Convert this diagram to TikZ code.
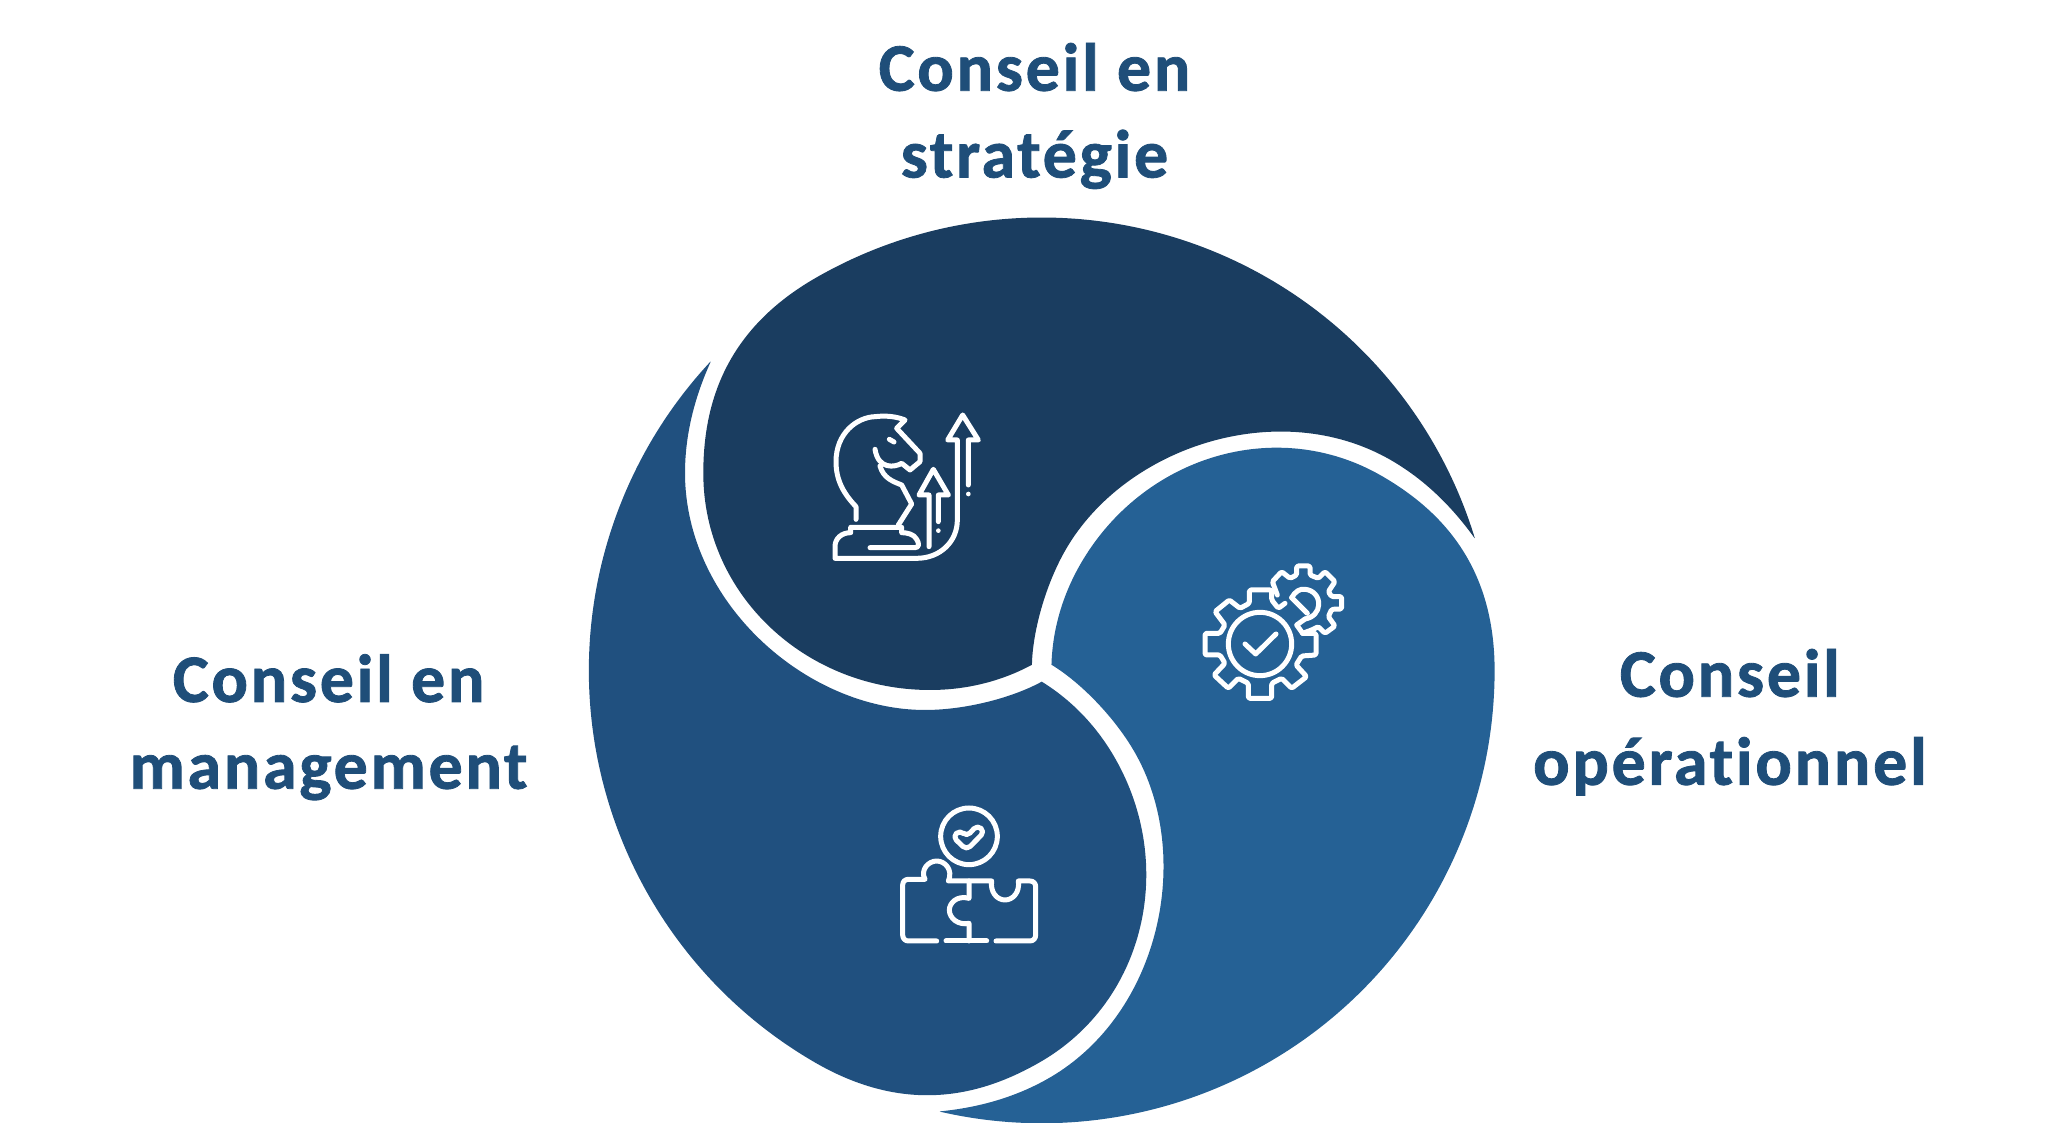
\documentclass[tikz,border=0pt]{standalone}
\usepackage{fontspec}
\setmainfont{Carlito}[LetterSpace=4,Ligatures=NoCommon,BoldFeatures={FakeBold=1.2}]
\definecolor{cdark}{HTML}{1A3D60}
\definecolor{cmid}{HTML}{20507F}
\definecolor{clight}{HTML}{256195}
\definecolor{ctext}{HTML}{1F4E79}
\tikzset{
  headtext/.style={font=\fontsize{68}{68}\selectfont\bfseries,text=ctext,anchor=base,inner sep=0pt},
  icon/.style={draw=white,line width=5pt,line cap=round,line join=round,fill=none},
}
% one petal, traced in the frame of the top (dark) petal; real pixels, y downward
\newcommand{\piece}[2]{%
  \fill[#1,rotate around={#2:(1041.7,670.4)}]
    (1031.9,664.8) .. controls (1000,682) and (965,690) .. (930,690)
    .. controls (806,690) and (703.3,595) .. (703.3,473.3)
    .. controls (703.3,405) and (724.3,330.7) .. (815.2,278.2)
    arc[start angle=-120,end angle=-17,radius=452.9]
    [rotate around={-120:(1041.7,670.4)}]
    -- (710.7,361.7) .. controls (697,392) and (685,430) .. (685,473)
    .. controls (685,602) and (806,710) .. (925,710)
    .. controls (965,710) and (1012,698) .. (1041.7,681.7) -- cycle;}
\begin{document}
\begin{tikzpicture}[x=1pt,y=1pt]
\useasboundingbox (0,0) rectangle (2060,1123);
\begin{scope}[yshift=1123pt,x=1pt,y=-1pt]
  \piece{clight}{-120}
  \piece{cdark}{0}
  \piece{cmid}{120}
\end{scope}
\begin{scope}[x=1.3145pt,y=1.3145pt]
  \node[headtext] (t1) at (787,785.3) {Conseil en};
  \node[headtext] (t2) at (787,719.3) {stratégie};
  \node[headtext] (l1) at (250,320.3) {Conseil en};
  \node[headtext] (l2) at (250,254.3) {management};
  \node[headtext] (r1) at (1316,324.3) {Conseil};
  \node[headtext] (r2) at (1316,257.3) {opérationnel};
\end{scope}
% knight
\begin{scope}[xshift=800pt,yshift=733pt,x=.33333pt,y=-.33333pt]
  \draw[icon] (168,388) -- (168,350) .. controls (130,310) and (108,270) .. (108,215)
     .. controls (108,130) and (170,82) .. (225,80) .. controls (260,76) and (290,80) .. (315,90)
     -- (290,115) -- (360,190) -- (360,215) -- (330,240) -- (305,220)
     .. controls (285,232) and (235,240) .. (225,178);
  \draw[icon] (240,228) .. controls (250,265) and (280,275) .. (305,285) -- (335,342) -- (295,405);
  \draw[icon] (268,148) -- (282,156);
  \draw[icon] (210,473) -- (345,473) .. controls (358,473) and (358,460) .. (350,448)
     .. controls (342,432) and (320,428) .. (305,428) -- (305,412) -- (152,412) -- (152,428)
     .. controls (125,428) and (105,445) .. (105,470) -- (105,505) -- (350,505)
     .. controls (420,505) and (472,455) .. (472,390) -- (472,150) -- (443,150) -- (488,75) -- (535,150) -- (505,150) -- (505,285);
  \fill[white] (505,312) circle (7);
  \draw[icon] (387,470) -- (387,315) -- (357,315) -- (400,238) -- (445,315) -- (415,315) -- (415,395);
  \fill[white] (415,422) circle (7);
\end{scope}
% gears
\begin{scope}[xshift=1190pt,yshift=573pt,x=.33333pt,y=-.33333pt]
  \draw[icon,rounded corners=1.5pt] (338,250) -- (378,250) -- (378,315) -- (335,318) -- (318,345) -- (350,380) -- (305,415)
    -- (275,385) -- (245,400) -- (245,445) -- (175,445) -- (175,400) -- (145,385) -- (115,415) -- (72,375)
    -- (105,340) -- (90,315) -- (45,315) -- (45,250) -- (90,250) -- (105,225) -- (75,185) -- (118,150)
    -- (150,175) -- (178,160) -- (178,120) -- (245,120) -- (245,150) -- (265,175) -- (285,160);
  \draw[icon] (338,250) -- (320,225) -- (345,207);
  \draw[icon] (210,282) circle (95);
  \draw[icon] (165,282) -- (197,312) -- (258,252);
  \draw[icon,rounded corners=1.5pt] (262,135) -- (247,95) -- (275,65) -- (300,85) -- (320,75) -- (320,48) -- (360,48) -- (360,75)
    -- (385,85) -- (405,65) -- (435,95) -- (415,125) -- (425,140) -- (455,140) -- (455,177) -- (425,178)
    -- (415,200) -- (435,228) -- (405,250) -- (385,230) -- (365,240) -- (338,250);
  \draw[icon] (305,143) .. controls (315,125) and (330,115) .. (345,118)
    .. controls (370,120) and (388,140) .. (386,165) .. controls (385,185) and (370,203) .. (345,207);
  \draw[icon] (305,143) -- (352,190);
\end{scope}
% puzzle
\begin{scope}[xshift=890pt,yshift=328pt,x=.33333pt,y=-.33333pt]
  \draw[icon] (237,124) circle (85);
  \draw[icon,rounded corners=5pt] (188,125) -- (210,105) -- (230,125) -- (262,90) -- (284,110) -- (230,165) -- cycle;
  \draw[icon] (140,438) -- (55,438) .. controls (45,438) and (38,430) .. (38,420) -- (38,270)
    .. controls (38,260) and (45,253) .. (55,253) -- (105,253)
    .. controls (90,225) and (115,198) .. (140,198) .. controls (165,198) and (190,225) .. (175,258)
    -- (305,258) .. controls (300,290) and (320,315) .. (345,315) .. controls (370,315) and (390,290) .. (385,258)
    -- (420,258) .. controls (430,258) and (437,265) .. (437,275) -- (437,420)
    .. controls (437,430) and (430,438) .. (420,438) -- (318,438);
  \draw[icon] (168,438) -- (290,438);
  \draw[icon] (237,258) -- (237,310) .. controls (200,300) and (178,325) .. (178,345)
    .. controls (178,370) and (205,392) .. (237,385) -- (237,438);
\end{scope}
\end{tikzpicture}
\end{document}
